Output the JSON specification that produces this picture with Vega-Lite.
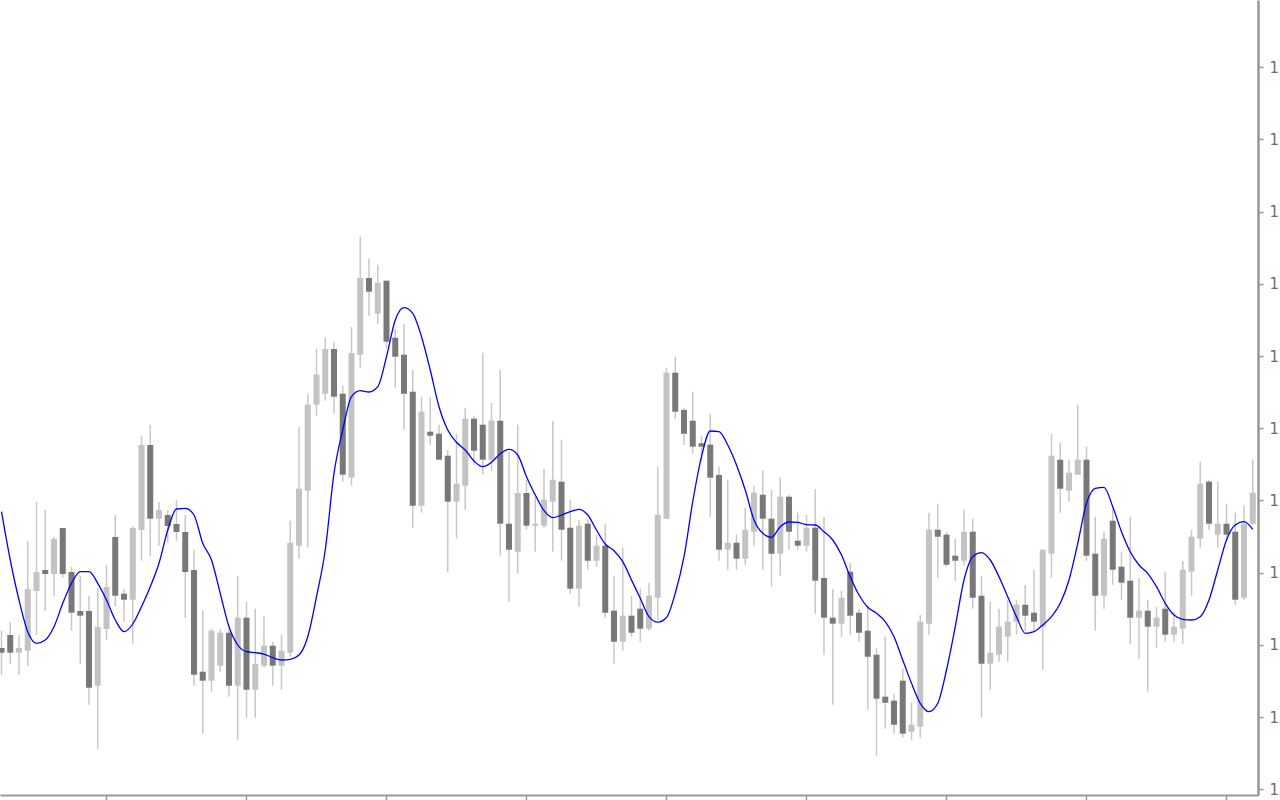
{
  "$schema": "https://vega.github.io/schema/vega-lite/v6.json",
  "width": 1258,
  "height": 795,
  "autosize": {"type": "none"},
  "padding": {"left": 0, "top": 0, "right": 22, "bottom": 5},
  "background": "#ffffff",
  "config": {"view": {"stroke": null}},
  "data": {"values": [
    {"i":0,"o":1.1152,"h":1.11693,"l":1.1125,"c":1.11473,"ma":1.12883},
    {"i":1,"o":1.1165,"h":1.1178,"l":1.11363,"c":1.11473,"ma":1.124},
    {"i":2,"o":1.11473,"h":1.1165,"l":1.1125,"c":1.1152,"ma":1.12},
    {"i":3,"o":1.11493,"h":1.1259,"l":1.1134,"c":1.1211,"ma":1.11683},
    {"i":4,"o":1.1209,"h":1.1298,"l":1.1165,"c":1.1228,"ma":1.11567},
    {"i":5,"o":1.123,"h":1.129,"l":1.11893,"c":1.1226,"ma":1.116},
    {"i":6,"o":1.1226,"h":1.12633,"l":1.12043,"c":1.1261,"ma":1.11733},
    {"i":7,"o":1.1272,"h":1.1272,"l":1.12223,"c":1.1226,"ma":1.11967},
    {"i":8,"o":1.1228,"h":1.1233,"l":1.11693,"c":1.11873,"ma":1.12167},
    {"i":9,"o":1.1189,"h":1.1224,"l":1.11363,"c":1.11843,"ma":1.12283},
    {"i":10,"o":1.1189,"h":1.1204,"l":1.10953,"c":1.11123,"ma":1.12283},
    {"i":11,"o":1.11143,"h":1.1212,"l":1.10513,"c":1.1173,"ma":1.12167},
    {"i":12,"o":1.1171,"h":1.1235,"l":1.116,"c":1.1213,"ma":1.12},
    {"i":13,"o":1.1263,"h":1.1285,"l":1.11933,"c":1.12043,"ma":1.118},
    {"i":14,"o":1.12063,"h":1.1211,"l":1.1178,"c":1.12003,"ma":1.11683},
    {"i":15,"o":1.12003,"h":1.1274,"l":1.11563,"c":1.1272,"ma":1.1176},
    {"i":16,"o":1.127,"h":1.1364,"l":1.12393,"c":1.1355,"ma":1.11933},
    {"i":17,"o":1.1355,"h":1.1375,"l":1.12443,"c":1.12813,"ma":1.12133},
    {"i":18,"o":1.12813,"h":1.1298,"l":1.12543,"c":1.129,"ma":1.12367},
    {"i":19,"o":1.1285,"h":1.129,"l":1.12573,"c":1.1274,"ma":1.127},
    {"i":20,"o":1.1276,"h":1.13,"l":1.12593,"c":1.1268,"ma":1.1291},
    {"i":21,"o":1.1268,"h":1.1285,"l":1.11823,"c":1.1228,"ma":1.12917},
    {"i":22,"o":1.123,"h":1.125,"l":1.11143,"c":1.11253,"ma":1.1285},
    {"i":23,"o":1.11283,"h":1.11893,"l":1.10663,"c":1.11193,"ma":1.12567},
    {"i":24,"o":1.11193,"h":1.11713,"l":1.11083,"c":1.11693,"ma":1.124},
    {"i":25,"o":1.11343,"h":1.11713,"l":1.11283,"c":1.11673,"ma":1.12067},
    {"i":26,"o":1.11673,"h":1.11713,"l":1.11033,"c":1.11143,"ma":1.11733},
    {"i":27,"o":1.11143,"h":1.1224,"l":1.10603,"c":1.11823,"ma":1.1155},
    {"i":28,"o":1.11823,"h":1.11983,"l":1.10823,"c":1.11103,"ma":1.11483},
    {"i":29,"o":1.11103,"h":1.11913,"l":1.10823,"c":1.11363,"ma":1.11473},
    {"i":30,"o":1.11343,"h":1.11843,"l":1.11323,"c":1.11543,"ma":1.1146},
    {"i":31,"o":1.11543,"h":1.11583,"l":1.11143,"c":1.11343,"ma":1.11423},
    {"i":32,"o":1.11343,"h":1.11653,"l":1.11103,"c":1.11493,"ma":1.114},
    {"i":33,"o":1.11473,"h":1.12793,"l":1.11433,"c":1.12573,"ma":1.11407},
    {"i":34,"o":1.12543,"h":1.13733,"l":1.12413,"c":1.13113,"ma":1.1145},
    {"i":35,"o":1.13093,"h":1.14063,"l":1.12523,"c":1.13953,"ma":1.11633},
    {"i":36,"o":1.13953,"h":1.14513,"l":1.13843,"c":1.14253,"ma":1.12033},
    {"i":37,"o":1.14063,"h":1.14623,"l":1.13993,"c":1.1451,"ma":1.125},
    {"i":38,"o":1.1451,"h":1.1458,"l":1.13863,"c":1.14033,"ma":1.13267},
    {"i":39,"o":1.14063,"h":1.14143,"l":1.13183,"c":1.13253,"ma":1.137},
    {"i":40,"o":1.13223,"h":1.1473,"l":1.13143,"c":1.1447,"ma":1.14033},
    {"i":41,"o":1.14453,"h":1.15633,"l":1.14323,"c":1.1522,"ma":1.14093},
    {"i":42,"o":1.1522,"h":1.15413,"l":1.14843,"c":1.15083,"ma":1.1408},
    {"i":43,"o":1.14863,"h":1.15353,"l":1.14763,"c":1.15173,"ma":1.14133},
    {"i":44,"o":1.15193,"h":1.15193,"l":1.1452,"c":1.14583,"ma":1.14433},
    {"i":45,"o":1.14623,"h":1.14713,"l":1.14123,"c":1.14433,"ma":1.148},
    {"i":46,"o":1.14453,"h":1.14763,"l":1.13703,"c":1.14063,"ma":1.14923},
    {"i":47,"o":1.14083,"h":1.14303,"l":1.12723,"c":1.12943,"ma":1.14867},
    {"i":48,"o":1.12943,"h":1.14033,"l":1.12873,"c":1.13883,"ma":1.14633},
    {"i":49,"o":1.13683,"h":1.14033,"l":1.13553,"c":1.13643,"ma":1.143},
    {"i":50,"o":1.13663,"h":1.13753,"l":1.13403,"c":1.13403,"ma":1.13933},
    {"i":51,"o":1.13443,"h":1.135,"l":1.1228,"c":1.12983,"ma":1.137},
    {"i":52,"o":1.12983,"h":1.1366,"l":1.12613,"c":1.13163,"ma":1.13577},
    {"i":53,"o":1.13143,"h":1.13923,"l":1.12903,"c":1.13813,"ma":1.135},
    {"i":54,"o":1.13813,"h":1.13843,"l":1.13353,"c":1.13493,"ma":1.1339},
    {"i":55,"o":1.13753,"h":1.14473,"l":1.13253,"c":1.13403,"ma":1.13333},
    {"i":56,"o":1.13403,"h":1.13973,"l":1.13293,"c":1.13793,"ma":1.13377},
    {"i":57,"o":1.13793,"h":1.143,"l":1.12443,"c":1.12763,"ma":1.13463},
    {"i":58,"o":1.12763,"h":1.1348,"l":1.11983,"c":1.12503,"ma":1.13507},
    {"i":59,"o":1.12483,"h":1.13753,"l":1.12263,"c":1.1307,"ma":1.1345},
    {"i":60,"o":1.1307,"h":1.132,"l":1.12703,"c":1.12743,"ma":1.13233},
    {"i":61,"o":1.12743,"h":1.13033,"l":1.12483,"c":1.12763,"ma":1.1305},
    {"i":62,"o":1.12743,"h":1.13313,"l":1.12723,"c":1.13003,"ma":1.12893},
    {"i":63,"o":1.12983,"h":1.13793,"l":1.12483,"c":1.13203,"ma":1.12823},
    {"i":64,"o":1.13183,"h":1.13603,"l":1.12393,"c":1.12703,"ma":1.1285},
    {"i":65,"o":1.12723,"h":1.13003,"l":1.12063,"c":1.12113,"ma":1.12883},
    {"i":66,"o":1.12113,"h":1.128,"l":1.11933,"c":1.12743,"ma":1.12907},
    {"i":67,"o":1.12763,"h":1.12803,"l":1.12303,"c":1.12393,"ma":1.1285},
    {"i":68,"o":1.12393,"h":1.12653,"l":1.12333,"c":1.12543,"ma":1.127},
    {"i":69,"o":1.12543,"h":1.12763,"l":1.11823,"c":1.11873,"ma":1.1256},
    {"i":70,"o":1.11893,"h":1.12243,"l":1.11363,"c":1.11583,"ma":1.12493},
    {"i":71,"o":1.11583,"h":1.12523,"l":1.11493,"c":1.11843,"ma":1.12383},
    {"i":72,"o":1.11843,"h":1.12043,"l":1.11633,"c":1.11673,"ma":1.122},
    {"i":73,"o":1.11913,"h":1.12113,"l":1.11583,"c":1.11713,"ma":1.12017},
    {"i":74,"o":1.11713,"h":1.12173,"l":1.11693,"c":1.12043,"ma":1.11833},
    {"i":75,"o":1.12023,"h":1.13333,"l":1.11803,"c":1.12853,"ma":1.11778},
    {"i":76,"o":1.12813,"h":1.14323,"l":1.12813,"c":1.14273,"ma":1.11825},
    {"i":77,"o":1.14273,"h":1.14433,"l":1.13813,"c":1.13883,"ma":1.12067},
    {"i":78,"o":1.139,"h":1.13923,"l":1.13553,"c":1.13663,"ma":1.12433},
    {"i":79,"o":1.13793,"h":1.14083,"l":1.13463,"c":1.13533,"ma":1.12983},
    {"i":80,"o":1.13567,"h":1.13643,"l":1.13393,"c":1.13533,"ma":1.13433},
    {"i":81,"o":1.13553,"h":1.13863,"l":1.12833,"c":1.13223,"ma":1.1369},
    {"i":82,"o":1.1325,"h":1.13333,"l":1.12393,"c":1.12503,"ma":1.13683},
    {"i":83,"o":1.12503,"h":1.13203,"l":1.12303,"c":1.12573,"ma":1.1355},
    {"i":84,"o":1.12573,"h":1.12653,"l":1.12303,"c":1.12413,"ma":1.1335},
    {"i":85,"o":1.12413,"h":1.12923,"l":1.12353,"c":1.12703,"ma":1.131},
    {"i":86,"o":1.12683,"h":1.13143,"l":1.12543,"c":1.13073,"ma":1.128},
    {"i":87,"o":1.13053,"h":1.13293,"l":1.12303,"c":1.12813,"ma":1.12667},
    {"i":88,"o":1.12813,"h":1.131,"l":1.12133,"c":1.12463,"ma":1.12627},
    {"i":89,"o":1.12463,"h":1.13223,"l":1.12243,"c":1.13033,"ma":1.12733},
    {"i":90,"o":1.13033,"h":1.13053,"l":1.12503,"c":1.12683,"ma":1.1278},
    {"i":91,"o":1.12593,"h":1.12873,"l":1.12503,"c":1.12543,"ma":1.12777},
    {"i":92,"o":1.12543,"h":1.12853,"l":1.12483,"c":1.12723,"ma":1.12753},
    {"i":93,"o":1.12723,"h":1.1311,"l":1.11863,"c":1.12193,"ma":1.1275},
    {"i":94,"o":1.1222,"h":1.12833,"l":1.11453,"c":1.11823,"ma":1.12683},
    {"i":95,"o":1.11823,"h":1.12113,"l":1.10953,"c":1.11763,"ma":1.126},
    {"i":96,"o":1.11763,"h":1.12093,"l":1.11633,"c":1.12023,"ma":1.1245},
    {"i":97,"o":1.12283,"h":1.1237,"l":1.11653,"c":1.11843,"ma":1.12233},
    {"i":98,"o":1.11873,"h":1.11913,"l":1.11583,"c":1.11673,"ma":1.1205},
    {"i":99,"o":1.11693,"h":1.11943,"l":1.10903,"c":1.11433,"ma":1.11927},
    {"i":100,"o":1.11453,"h":1.11523,"l":1.10443,"c":1.11013,"ma":1.11867},
    {"i":101,"o":1.11033,"h":1.11633,"l":1.10713,"c":1.10973,"ma":1.11783},
    {"i":102,"o":1.10993,"h":1.11063,"l":1.10663,"c":1.10753,"ma":1.11633},
    {"i":103,"o":1.11193,"h":1.11313,"l":1.10623,"c":1.10663,"ma":1.114},
    {"i":104,"o":1.10683,"h":1.10973,"l":1.10603,"c":1.10753,"ma":1.11167},
    {"i":105,"o":1.10733,"h":1.1185,"l":1.10623,"c":1.11783,"ma":1.10967},
    {"i":106,"o":1.11763,"h":1.12873,"l":1.11653,"c":1.12703,"ma":1.10883},
    {"i":107,"o":1.12703,"h":1.12963,"l":1.12223,"c":1.12633,"ma":1.10967},
    {"i":108,"o":1.12653,"h":1.12683,"l":1.12333,"c":1.12353,"ma":1.113},
    {"i":109,"o":1.12443,"h":1.12613,"l":1.12193,"c":1.12393,"ma":1.11733},
    {"i":110,"o":1.12393,"h":1.12903,"l":1.1235,"c":1.12683,"ma":1.122},
    {"i":111,"o":1.12683,"h":1.12813,"l":1.11913,"c":1.12023,"ma":1.12433},
    {"i":112,"o":1.12043,"h":1.12243,"l":1.10823,"c":1.11363,"ma":1.12473},
    {"i":113,"o":1.11363,"h":1.11983,"l":1.11103,"c":1.11473,"ma":1.124},
    {"i":114,"o":1.11453,"h":1.11913,"l":1.11383,"c":1.11733,"ma":1.12233},
    {"i":115,"o":1.11633,"h":1.12003,"l":1.11383,"c":1.11783,"ma":1.12033},
    {"i":116,"o":1.11783,"h":1.12003,"l":1.11653,"c":1.11953,"ma":1.11833},
    {"i":117,"o":1.11953,"h":1.12153,"l":1.11693,"c":1.11843,"ma":1.11667},
    {"i":118,"o":1.11873,"h":1.12303,"l":1.11693,"c":1.11783,"ma":1.11683},
    {"i":119,"o":1.11733,"h":1.12503,"l":1.11303,"c":1.12503,"ma":1.1175},
    {"i":120,"o":1.12463,"h":1.13663,"l":1.12223,"c":1.13443,"ma":1.11833},
    {"i":121,"o":1.13403,"h":1.13573,"l":1.12873,"c":1.13113,"ma":1.11967},
    {"i":122,"o":1.13093,"h":1.13403,"l":1.12983,"c":1.13273,"ma":1.122},
    {"i":123,"o":1.13253,"h":1.13953,"l":1.1325,"c":1.13403,"ma":1.12567},
    {"i":124,"o":1.13403,"h":1.13533,"l":1.12393,"c":1.12443,"ma":1.12967},
    {"i":125,"o":1.12463,"h":1.12833,"l":1.11693,"c":1.12043,"ma":1.13117},
    {"i":126,"o":1.12043,"h":1.12683,"l":1.11913,"c":1.12613,"ma":1.13127},
    {"i":127,"o":1.12793,"h":1.12913,"l":1.12153,"c":1.12303,"ma":1.12933},
    {"i":128,"o":1.12333,"h":1.12483,"l":1.12003,"c":1.12173,"ma":1.12683},
    {"i":129,"o":1.12193,"h":1.12833,"l":1.11563,"c":1.11823,"ma":1.12483},
    {"i":130,"o":1.11823,"h":1.12223,"l":1.11413,"c":1.11893,"ma":1.1235},
    {"i":131,"o":1.11893,"h":1.12003,"l":1.11083,"c":1.11733,"ma":1.12267},
    {"i":132,"o":1.11733,"h":1.11933,"l":1.11523,"c":1.11823,"ma":1.12133},
    {"i":133,"o":1.11913,"h":1.12283,"l":1.11583,"c":1.11653,"ma":1.11967},
    {"i":134,"o":1.11653,"h":1.11883,"l":1.11583,"c":1.11733,"ma":1.1185},
    {"i":135,"o":1.11713,"h":1.12393,"l":1.11563,"c":1.12303,"ma":1.11807},
    {"i":136,"o":1.12283,"h":1.12703,"l":1.12043,"c":1.12633,"ma":1.118},
    {"i":137,"o":1.12613,"h":1.13383,"l":1.12523,"c":1.13163,"ma":1.11833},
    {"i":138,"o":1.13183,"h":1.13203,"l":1.12703,"c":1.12763,"ma":1.12},
    {"i":139,"o":1.12653,"h":1.13183,"l":1.12523,"c":1.12763,"ma":1.123},
    {"i":140,"o":1.12763,"h":1.12963,"l":1.12592,"c":1.12653,"ma":1.126},
    {"i":141,"o":1.12683,"h":1.12873,"l":1.11953,"c":1.12003,"ma":1.1275},
    {"i":142,"o":1.12023,"h":1.12943,"l":1.12003,"c":1.12763,"ma":1.12783},
    {"i":143,"o":1.12763,"h":1.13403,"l":1.1276,"c":1.13073,"ma":1.12707}
  ]},
  "encoding": {
    "x": {
      "field": "i",
      "type": "quantitative",
      "scale": {"domain": [-0.1714, 143.6], "nice": false, "zero": false, "padding": 0},
      "axis": {
        "title": null,
        "orient": "bottom",
        "labels": false,
        "grid": false,
        "values": [11.909, 27.909, 43.909, 59.909, 75.909, 91.909, 107.909, 123.909, 139.909],
        "domainColor": "#999999",
        "domainWidth": 2,
        "tickColor": "#999999",
        "tickWidth": 1.5,
        "tickSize": 5
      }
    }
  },
  "layer": [
    {
      "mark": {"type": "rule", "color": "#c8c8c8", "strokeWidth": 1.5},
      "encoding": {
        "y": {
          "field": "l",
          "type": "quantitative",
          "scale": {"domain": [1.1005, 1.18], "nice": false, "zero": false},
          "axis": {
            "title": null,
            "orient": "right",
            "grid": false,
            "values": [1.10107, 1.10829, 1.11551, 1.12273, 1.12995, 1.13717, 1.14439, 1.15161, 1.15883, 1.16605, 1.17327],
            "format": ".5f",
            "domainColor": "#999999",
            "domainWidth": 2.5,
            "tickColor": "#999999",
            "tickWidth": 1.5,
            "tickSize": 5,
            "labelPadding": 6,
            "labelColor": "#7a6a6a",
            "labelFont": "DejaVu Sans",
            "labelFontSize": 15
          }
        },
        "y2": {"field": "h"}
      }
    },
    {
      "mark": {"type": "bar", "size": 6},
      "encoding": {
        "y": {
          "field": "o",
          "type": "quantitative",
          "scale": {"domain": [1.1005, 1.18], "nice": false, "zero": false},
          "axis": {
            "title": null,
            "orient": "right",
            "grid": false,
            "values": [1.10107, 1.10829, 1.11551, 1.12273, 1.12995, 1.13717, 1.14439, 1.15161, 1.15883, 1.16605, 1.17327],
            "format": ".5f",
            "domainColor": "#999999",
            "domainWidth": 2.5,
            "tickColor": "#999999",
            "tickWidth": 1.5,
            "tickSize": 5,
            "labelPadding": 6,
            "labelColor": "#7a6a6a",
            "labelFont": "DejaVu Sans",
            "labelFontSize": 15
          }
        },
        "y2": {"field": "c"},
        "color": {"condition": {"test": "datum.c > datum.o", "value": "#c3c3c3"}, "value": "#787878"}
      }
    },
    {
      "mark": {"type": "line", "color": "#0000ff", "strokeWidth": 1.3, "interpolate": "monotone", "clip": true},
      "encoding": {
        "y": {
          "field": "ma",
          "type": "quantitative",
          "scale": {"domain": [1.1005, 1.18], "nice": false, "zero": false},
          "axis": {
            "title": null,
            "orient": "right",
            "grid": false,
            "values": [1.10107, 1.10829, 1.11551, 1.12273, 1.12995, 1.13717, 1.14439, 1.15161, 1.15883, 1.16605, 1.17327],
            "format": ".5f",
            "domainColor": "#999999",
            "domainWidth": 2.5,
            "tickColor": "#999999",
            "tickWidth": 1.5,
            "tickSize": 5,
            "labelPadding": 6,
            "labelColor": "#7a6a6a",
            "labelFont": "DejaVu Sans",
            "labelFontSize": 15
          }
        }
      }
    }
  ]
}
